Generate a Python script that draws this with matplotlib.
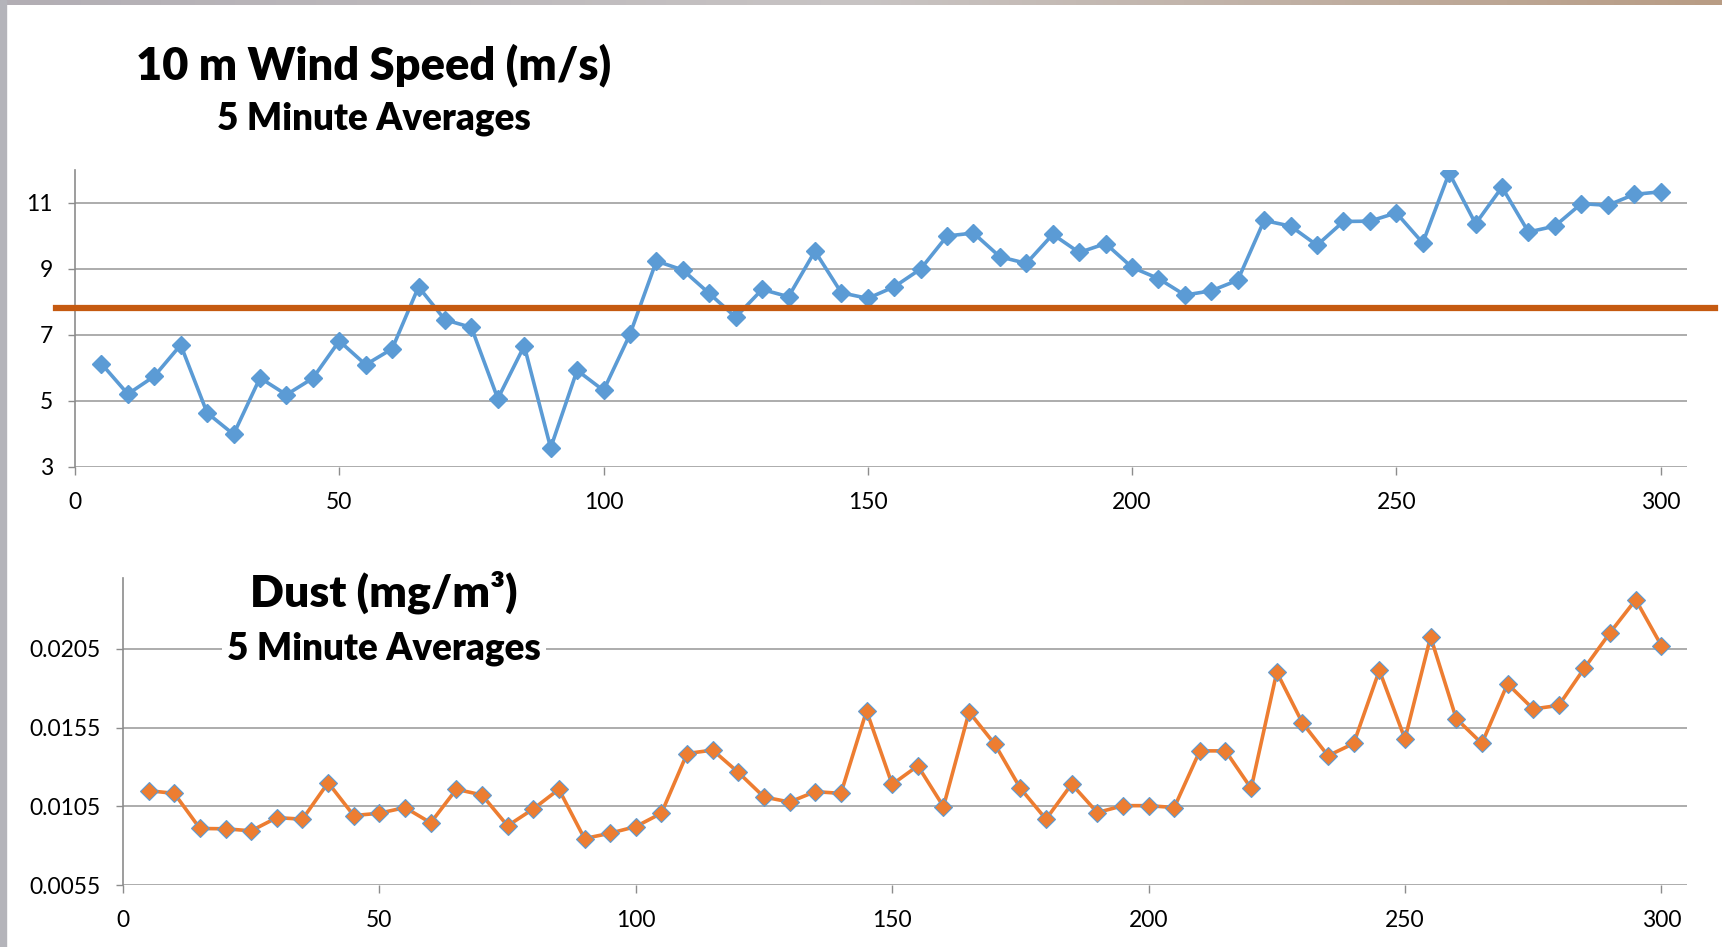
import numpy as np
import matplotlib.pyplot as plt

plt.rcParams['font.family'] = ['Lato', 'DejaVu Sans']

# minutes since start (5 minute averages)
minutes = [5, 10, 15, 20, 25, 30, 35, 40, 45, 50,
           55, 60, 65, 70, 75, 80, 85, 90, 95, 100,
           105, 110, 115, 120, 125, 130, 135, 140, 145, 150,
           155, 160, 165, 170, 175, 180, 185, 190, 195, 200,
           205, 210, 215, 220, 225, 230, 235, 240, 245, 250,
           255, 260, 265, 270, 275, 280, 285, 290, 295, 300]

# 10 m wind speed (m/s)
wind_speed = [6.13, 5.21, 5.75, 6.70, 4.64, 3.99, 5.70, 5.19, 5.69, 6.82,
              6.10, 6.58, 8.46, 7.46, 7.23, 5.07, 6.67, 3.58, 5.93, 5.32,
              7.02, 9.24, 8.97, 8.26, 7.54, 8.38, 8.16, 9.54, 8.28, 8.11,
              8.46, 9.00, 10.00, 10.09, 9.37, 9.17, 10.05, 9.50, 9.77, 9.05,
              8.71, 8.21, 8.34, 8.66, 10.47, 10.30, 9.72, 10.44, 10.45, 10.70,
              9.79, 11.91, 10.37, 11.48, 10.12, 10.30, 10.98, 10.93, 11.26, 11.34]

# dust (mg/m3)
dust = [0.01149, 0.01132, 0.00909, 0.00907, 0.00894, 0.00978, 0.00968, 0.01200, 0.00991, 0.01006,
        0.01042, 0.00945, 0.01158, 0.01122, 0.00926, 0.01033, 0.01158, 0.00845, 0.00879, 0.00921,
        0.01006, 0.01385, 0.01407, 0.01265, 0.01109, 0.01077, 0.01143, 0.01132, 0.01656, 0.01189,
        0.01307, 0.01048, 0.01649, 0.01445, 0.01164, 0.00968, 0.01191, 0.01010, 0.01054, 0.01054,
        0.01042, 0.01402, 0.01402, 0.01164, 0.01902, 0.01580, 0.01371, 0.01449, 0.01913, 0.01478,
        0.02126, 0.01607, 0.01449, 0.01828, 0.01668, 0.01691, 0.01928, 0.02153, 0.02362, 0.02071]

wind_threshold = 7.83
wind_ticks = [3, 5, 7, 9, 11]
dust_ticks = [0.0055, 0.0105, 0.0155, 0.0205]
x_ticks = [0, 50, 100, 150, 200, 250, 300]

W, H = 1722, 947
fig = plt.figure(figsize=(W / 100, H / 100), dpi=100)

grid_c = '#A6A6A6'
axis_c = '#8C8C8C'


def style_axes(ax):
    ax.spines['top'].set_visible(False)
    ax.spines['right'].set_visible(False)
    ax.spines['bottom'].set_visible(False)
    ax.spines['left'].set_color(axis_c)
    ax.spines['left'].set_linewidth(1.2)
    ax.grid(axis='y', color=grid_c, linewidth=1.3)
    ax.set_axisbelow(True)
    ax.tick_params(axis='both', colors=axis_c, labelcolor='black', labelsize=16.5,
                   width=1.0)
    ax.tick_params(axis='x', length=6, pad=12)
    ax.tick_params(axis='y', length=5, pad=11)
    ax.set_xlim(0, 305)
    ax.set_xticks(x_ticks)


# ---- wind speed panel
ax1 = fig.add_axes([75 / W, 1 - 467 / H, 1612 / W, 297 / H])
style_axes(ax1)
ax1.set_ylim(3, 12)
ax1.set_yticks(wind_ticks)
ax1.plot(minutes, wind_speed, color='#5B9BD5', lw=2.6, marker='D', ms=9.5,
         mec='#5B9BD5', zorder=3)
ax1.axhline(wind_threshold, xmin=-0.012, xmax=1.0175, color='#C55A11', lw=4.5,
            clip_on=False, zorder=4)

fig.text(374 / W, 1 - 79 / H, '10 m Wind Speed (m/s)', ha='center', va='baseline',
         fontsize=32.5, fontweight='heavy')
fig.text(374 / W, 1 - 129 / H, '5 Minute Averages', ha='center', va='baseline',
         fontsize=26.5, fontweight='heavy')

# ---- dust panel
ax2 = fig.add_axes([123 / W, 1 - 885 / H, 1564 / W, 307 / H])
style_axes(ax2)
ax2.set_ylim(0.0055, 0.0250)
ax2.set_yticks(dust_ticks)
ax2.set_yticklabels([f'{v:.4f}' for v in dust_ticks])
ax2.plot(minutes, dust, color='#ED7D31', lw=2.6, marker='D', ms=9.5,
         mfc='#ED7D31', mec='#5B9BD5', mew=0.8, zorder=3)

fig.text(384 / W, 1 - 606 / H, 'Dust (mg/m³)', ha='center', va='baseline',
         fontsize=32, fontweight='heavy')
fig.text(384 / W, 1 - 659 / H, '5 Minute Averages', ha='center', va='baseline',
         fontsize=26.5, fontweight='heavy',
         bbox=dict(facecolor='white', edgecolor='none', pad=4))

# slide frame edges
fig.patches.append(plt.Rectangle((0, 0), 6 / W, 1, transform=fig.transFigure,
                                 color='#B4B4BA', zorder=0))
frame = fig.add_axes([0, 1 - 5 / H, 1, 5 / H])
frame.imshow(np.linspace(0, 1, 256)[None, :], aspect='auto',
             cmap=plt.matplotlib.colors.LinearSegmentedColormap.from_list(
                 'edge', ['#B2AEB4', '#C8C4C4', '#B89C84']))
frame.axis('off')

fig.savefig('out.png', dpi=100, facecolor='white')
